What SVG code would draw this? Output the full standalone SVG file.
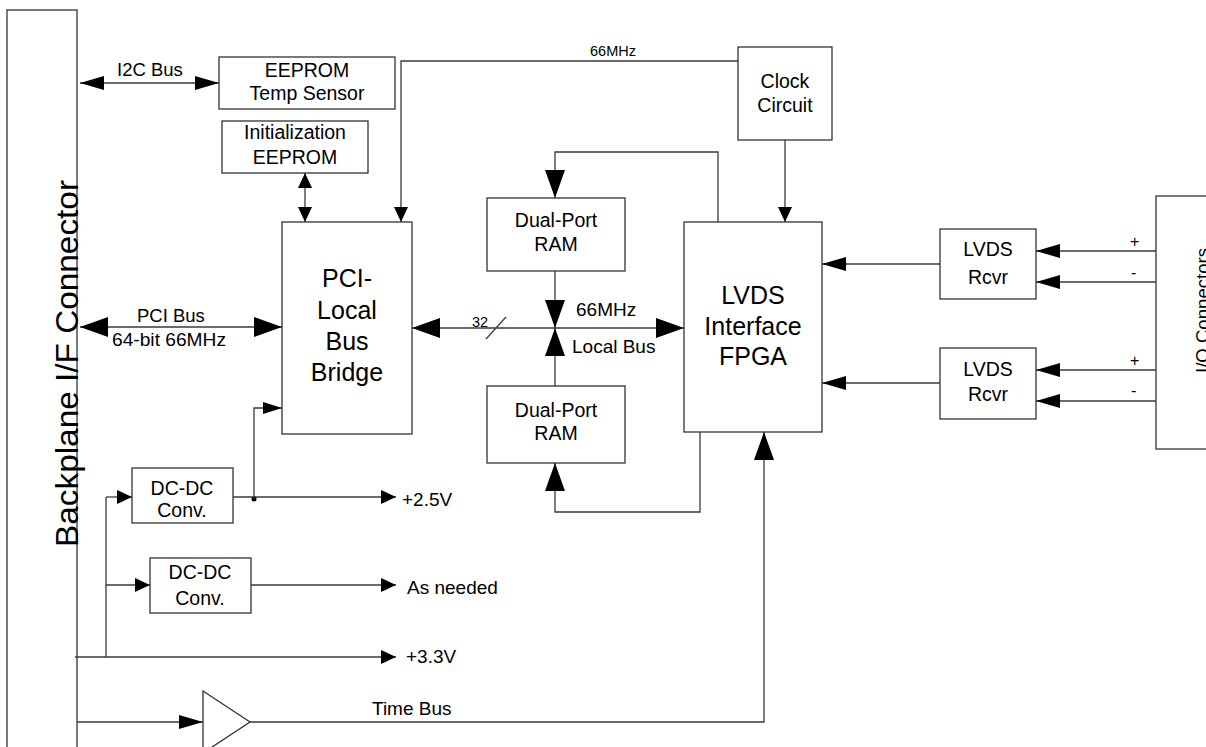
<svg xmlns="http://www.w3.org/2000/svg" width="1206" height="747" viewBox="0 0 1206 747">
<style>
  .box { fill: #ffffff; stroke: #333333; stroke-width: 1.3; }
  .ln { fill: none; stroke: #3a3a3a; stroke-width: 1.3; }
  text { font-family: "Liberation Sans", Arial, sans-serif; fill: #000000; }
  .lbl { font-size: 19.5px; text-anchor: middle; }
  .big { font-size: 25px; }
  .sm { font-size: 16px; }
  .note { font-size: 19px; }
</style>
<defs>
  <marker id="big" markerUnits="userSpaceOnUse" markerWidth="28" markerHeight="20" refX="28" refY="10" orient="auto-start-reverse" viewBox="0 0 28 20">
    <path d="M0,0 L28,10 L0,20 Z" fill="#000"/>
  </marker>
  <marker id="med" markerUnits="userSpaceOnUse" markerWidth="24" markerHeight="14" refX="24" refY="7" orient="auto-start-reverse" viewBox="0 0 24 14">
    <path d="M0,0 L24,7 L0,14 Z" fill="#000"/>
  </marker>
  <marker id="pw" markerUnits="userSpaceOnUse" markerWidth="19" markerHeight="12" refX="19" refY="6" orient="auto-start-reverse" viewBox="0 0 19 12">
    <path d="M0,0 L19,6 L0,12 Z" fill="#000"/>
  </marker>
  <marker id="small" markerUnits="userSpaceOnUse" markerWidth="15" markerHeight="14" refX="15" refY="7" orient="auto-start-reverse" viewBox="0 0 15 14">
    <path d="M0,0 L15,7 L0,14 Z" fill="#000"/>
  </marker>
</defs>

<g id="backplane">
  <rect class="box" x="7" y="10" width="70" height="760"/>
  <text transform="translate(78,363.5) rotate(-90)" font-size="32" text-anchor="middle" textLength="367" lengthAdjust="spacingAndGlyphs">Backplane I/F Connector</text>
</g>

<g id="io-connectors">
  <rect class="box" x="1156" y="196" width="60" height="253"/>
  <text transform="translate(1208.5,310.5) rotate(-90)" font-size="18.6" text-anchor="middle">I/O  Connectors</text>
</g>

<g id="eeprom-temp">
  <rect class="box" x="219" y="57" width="176" height="52"/>
  <text class="lbl" x="307" y="77">EEPROM</text>
  <text class="lbl" x="307" y="100">Temp Sensor</text>
</g>

<g id="init-eeprom">
  <rect class="box" x="222" y="121" width="146" height="52"/>
  <text class="lbl" x="295" y="139">Initialization</text>
  <text class="lbl" x="295" y="164">EEPROM</text>
</g>

<g id="pci-bridge">
  <rect class="box" x="282" y="222" width="130" height="212"/>
  <text class="lbl big" x="347" y="287">PCI-</text>
  <text class="lbl big" x="347" y="319">Local</text>
  <text class="lbl big" x="347" y="350">Bus</text>
  <text class="lbl big" x="347" y="381">Bridge</text>
</g>

<g id="clock">
  <rect class="box" x="738" y="47" width="94" height="93"/>
  <text class="lbl" x="785" y="88">Clock</text>
  <text class="lbl" x="785" y="112">Circuit</text>
</g>

<g id="ram-top">
  <rect class="box" x="487" y="198" width="138" height="73"/>
  <text class="lbl" x="556" y="227">Dual-Port</text>
  <text class="lbl" x="556" y="251">RAM</text>
</g>

<g id="ram-bottom">
  <rect class="box" x="487" y="386" width="138" height="77"/>
  <text class="lbl" x="556" y="417">Dual-Port</text>
  <text class="lbl" x="556" y="440">RAM</text>
</g>

<g id="fpga">
  <rect class="box" x="684" y="222" width="138" height="210"/>
  <text class="lbl big" x="753" y="304">LVDS</text>
  <text class="lbl big" x="753" y="335">Interface</text>
  <text class="lbl big" x="753" y="365">FPGA</text>
</g>

<g id="lvds-rcvr-1">
  <rect class="box" x="940" y="229" width="96" height="70"/>
  <text class="lbl" x="988" y="256">LVDS</text>
  <text class="lbl" x="988" y="284">Rcvr</text>
</g>

<g id="lvds-rcvr-2">
  <rect class="box" x="940" y="348" width="96" height="71"/>
  <text class="lbl" x="988" y="376">LVDS</text>
  <text class="lbl" x="988" y="401">Rcvr</text>
</g>

<g id="dcdc-1">
  <rect class="box" x="132" y="468" width="101" height="55"/>
  <text class="lbl" x="182" y="495">DC-DC</text>
  <text class="lbl" x="182" y="517">Conv.</text>
</g>

<g id="dcdc-2">
  <rect class="box" x="150" y="558" width="101" height="55"/>
  <text class="lbl" x="200" y="579">DC-DC</text>
  <text class="lbl" x="200" y="605">Conv.</text>
</g>

<g id="buffer">
  <polygon class="box" points="203,691 250,722 203,753"/>
</g>

<g id="connectors">
  <line class="ln" x1="80" y1="83" x2="219" y2="83" marker-start="url(#med)" marker-end="url(#med)"/>
  <line class="ln" x1="305" y1="173" x2="305" y2="222" marker-start="url(#small)" marker-end="url(#small)"/>
  <polyline class="ln" points="738,61 401,61 401,222" marker-end="url(#small)"/>
  <line class="ln" x1="785" y1="140" x2="785" y2="222" marker-end="url(#small)"/>
  <line class="ln" x1="80" y1="327" x2="282" y2="327" marker-start="url(#big)" marker-end="url(#big)"/>
  <line class="ln" x1="412" y1="328" x2="684" y2="328" marker-start="url(#big)" marker-end="url(#big)"/>
  <line class="ln" x1="555" y1="271" x2="555" y2="328" marker-end="url(#big)"/>
  <line class="ln" x1="555" y1="386" x2="555" y2="328" marker-end="url(#big)"/>
  <polyline class="ln" points="718,222 718,152 555,152 555,198" marker-end="url(#big)"/>
  <polyline class="ln" points="700,432 700,512 555,512 555,463" marker-end="url(#big)"/>
  <line class="ln" x1="486" y1="339" x2="506" y2="317"/>
  <line class="ln" x1="940" y1="264" x2="822" y2="264" marker-end="url(#med)"/>
  <line class="ln" x1="940" y1="383" x2="822" y2="383" marker-end="url(#med)"/>
  <line class="ln" x1="1156" y1="251" x2="1036" y2="251" marker-end="url(#med)"/>
  <line class="ln" x1="1156" y1="282" x2="1036" y2="282" marker-end="url(#med)"/>
  <line class="ln" x1="1156" y1="370" x2="1036" y2="370" marker-end="url(#med)"/>
  <line class="ln" x1="1156" y1="401" x2="1036" y2="401" marker-end="url(#med)"/>
  <line class="ln" x1="106" y1="497" x2="106" y2="657"/>
  <line class="ln" x1="106" y1="497" x2="132" y2="497" marker-end="url(#small)"/>
  <line class="ln" x1="106" y1="585" x2="150" y2="585" marker-end="url(#small)"/>
  <line class="ln" x1="233" y1="497" x2="396" y2="497" marker-end="url(#small)"/>
  <circle cx="254" cy="499" r="2.5" fill="#000"/>
  <polyline class="ln" points="254,499 254,408 282,408" marker-end="url(#pw)"/>
  <line class="ln" x1="251" y1="585" x2="396" y2="585" marker-end="url(#small)"/>
  <line class="ln" x1="75" y1="657" x2="396" y2="657" marker-end="url(#small)"/>
  <line class="ln" x1="77" y1="722" x2="203" y2="722" marker-end="url(#med)"/>
  <polyline class="ln" points="250,722 764,722 764,432" marker-end="url(#big)"/>
</g>

<g id="labels">
  <text x="117" y="76" font-size="18.5">I2C Bus</text>
  <text x="137" y="322" font-size="18.5">PCI Bus</text>
  <text x="112" y="346" font-size="18.5" textLength="114" lengthAdjust="spacingAndGlyphs">64-bit 66MHz</text>
  <text x="590" y="56" font-size="14.5">66MHz</text>
  <text x="472" y="327" font-size="14.5">32</text>
  <text x="576" y="316" font-size="19">66MHz</text>
  <text x="572" y="353" font-size="19">Local Bus</text>
  <text x="1130" y="247" class="sm">+</text>
  <text x="1131" y="278" class="sm">-</text>
  <text x="1130" y="366" class="sm">+</text>
  <text x="1131" y="396" class="sm">-</text>
  <text x="402" y="506" class="note">+2.5V</text>
  <text x="407" y="594" class="note">As needed</text>
  <text x="406" y="663" class="note">+3.3V</text>
  <text x="372" y="715" class="note">Time Bus</text>
</g>
</svg>
